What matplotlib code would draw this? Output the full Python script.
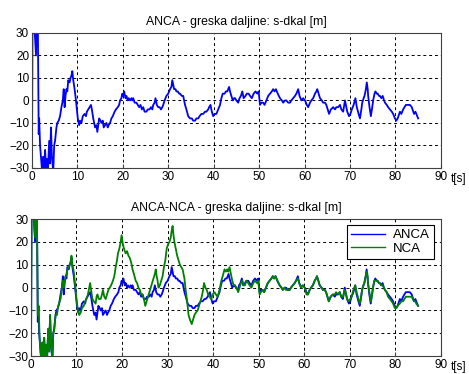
import matplotlib
matplotlib.use("Agg")
import matplotlib.pyplot as plt

plt.rcParams['font.family'] = ['Liberation Sans', 'DejaVu Sans']

# ANCA - greska daljine (procitano sa slike)
anca_t = [0.0, 0.15, 0.5, 0.9, 1.1, 1.3, 1.5, 1.6, 1.8, 2.1, 2.3, 2.5, 2.7, 2.9, 3.1, 3.3, 3.5, 3.8,
          4.0, 4.2, 4.4, 4.7, 4.9, 5.1, 5.4, 5.6, 5.9, 6.2, 6.5, 6.8, 7.0, 7.2, 7.4, 7.6, 7.8, 8.0,
          8.3, 8.5, 8.7, 8.9, 9.1, 9.4, 9.7, 9.9, 10.1, 10.4, 10.6, 10.9, 11.2, 11.6, 11.9, 12.1,
          12.4, 12.7, 13.0, 13.2, 13.5, 13.9, 14.2, 14.4, 14.6, 14.8, 15.1, 15.3, 15.6, 15.8, 16.1,
          16.4, 16.7, 16.9, 17.2, 17.5, 17.8, 18.2, 18.5, 18.9, 19.2, 19.4, 19.7, 19.9, 20.1, 20.3,
          20.6, 20.8, 21.1, 21.3, 21.6, 21.9, 22.1, 22.3, 22.6, 23.0, 23.3, 23.6, 23.9, 24.2, 24.5,
          24.8, 25.2, 25.5, 25.9, 26.2, 26.5, 26.7, 27.0, 27.2, 27.5, 27.8, 28.1, 28.4, 28.7, 28.9,
          29.2, 29.6, 30.0, 30.4, 30.7, 30.9, 31.1, 31.3, 31.6, 31.8, 32.1, 32.4, 32.6, 33.0, 33.3,
          33.5, 33.7, 34.0, 34.4, 34.8, 35.2, 35.5, 35.9, 36.2, 36.6, 36.9, 37.3, 37.7, 38.1, 38.4,
          38.8, 39.0, 39.3, 39.6, 39.9, 40.2, 40.6, 41.0, 41.4, 41.7, 42.0, 42.4, 42.7, 43.0, 43.4,
          43.6, 43.9, 44.2, 44.5, 44.7, 45.0, 45.4, 45.7, 46.0, 46.3, 46.6, 47.0, 47.3, 47.7, 48.0,
          48.4, 48.8, 49.2, 49.6, 49.9, 50.2, 50.5, 50.9, 51.2, 51.6, 52.0, 52.4, 52.8, 53.1, 53.4,
          53.7, 54.1, 54.6, 55.0, 55.3, 55.7, 56.0, 56.4, 56.8, 57.1, 57.5, 57.9, 58.2, 58.6, 58.9,
          59.3, 59.7, 60.1, 60.5, 60.8, 61.2, 61.5, 61.9, 62.3, 62.6, 62.8, 63.1, 63.4, 63.8, 64.1,
          64.5, 64.8, 65.1, 65.4, 65.8, 66.3, 66.7, 67.0, 67.4, 67.8, 68.1, 68.5, 68.9, 69.2, 69.4,
          69.8, 70.1, 70.4, 70.8, 71.2, 71.5, 71.9, 72.2, 72.5, 72.7, 73.0, 73.2, 73.5, 73.7, 73.9,
          74.0, 74.3, 74.6, 74.9, 75.1, 75.4, 75.6, 75.9, 76.1, 76.4, 76.6, 76.9, 77.2, 77.5, 77.7,
          78.1, 78.4, 78.8, 79.2, 79.5, 79.9, 80.2, 80.5, 81.0, 81.3, 81.7, 82.0, 82.3, 82.8, 83.2,
          83.6, 84.1, 84.4, 84.6, 85.0]
anca_s = [-35, 40, 35, 20, 38, 36, -15, -8, -20, -28, -33, -25, -32, -22, -30, -26, -33, -18,
          -28, -12, -25, -32, -20, -18, -12, -10, -9, -7, -3, 0, 5, -3, 2, 5, 4, 9,
          8, 10, 11, 13, 9, 5, 0, -4, -8, -11, -9, -10, -7, -6, -7, -5,
          -4, -3, -2, -4, -8, -12, -11, -14, -11, -8, -9, -10, -9, -12, -11,
          -10, -12, -11, -10, -8, -7, -5, -4, -3, -2, 0, 1, 3, 2, 4,
          1, 2, 0, 1, 0, 1, 0, 1, -1, -1, -2, -3, -2, -4, -3,
          -5, -5, -4, -4, -3, -4, -2, -1, 1, -2, -3, -3, -4, -3, -2,
          0, 2, 3, 5, 6, 9, 7, 5, 5, 4, 4, 3, 3, 2, 2,
          0, -2, -4, -7, -8, -8, -9, -9, -8, -8, -7, -6, -6, -5, -5,
          -4, -3, -2, -5, -7, -6, -6, -4, -2, 1, 3, 3, 4, 4, 6,
          4, 2, 0, 1, 1, 0, -1, 1, 2, 4, 1, 2, 3, 3, 2,
          1, 3, 4, 3, 4, -2, -1, -1, -2, 0, 2, 3, 4, 5, 4,
          5, 3, 1, 0, -1, 0, 0, -1, -1, 0, 1, 2, 3, 5, 2,
          0, 1, 0, -2, -3, -1, 0, 1, 3, 4, 5, 3, 1, 0, -1,
          -1, -2, -4, -6, -4, -3, -4, -3, -3, -2, -4, -5, 0, -3, -5,
          -7, -6, -4, -2, 1, -3, -6, -8, -4, -1, 1, 2, 5, 8, 5,
          2, -3, -7, -3, 0, 3, 4, 3, 3, 2, 2, 1, 2, 0, -1,
          -2, -3, -4, -5, -6, -8, -9, -8, -5, -6, -4, -3, -2, -2, -2,
          -3, -6, -5, -6, -8]

# NCA - greska daljine
nca_t = [0.0, 0.15, 0.5, 0.9, 1.1, 1.3, 1.5, 1.7, 1.9, 2.1, 2.3, 2.5, 2.7, 2.9, 3.1, 3.3, 3.5, 3.8,
         4.0, 4.2, 4.4, 4.7, 4.9, 5.1, 5.4, 5.7, 6.0, 6.3, 6.5, 6.8, 7.0, 7.2, 7.5, 7.8, 8.0, 8.3,
         8.5, 8.7, 8.9, 9.1, 9.4, 9.7, 10.0, 10.3, 10.6, 10.9, 11.2, 11.6, 11.9, 12.2, 12.5, 12.8,
         13.0, 13.2, 13.5, 13.8, 14.2, 14.4, 14.6, 14.9, 15.3, 15.6, 15.8, 16.1, 16.4, 16.7, 17.0,
         17.3, 17.6, 18.0, 18.3, 18.6, 18.9, 19.1, 19.4, 19.7, 19.9, 20.1, 20.3, 20.6, 20.8, 21.1,
         21.4, 21.7, 22.0, 22.3, 22.6, 23.0, 23.3, 23.6, 23.9, 24.2, 24.5, 24.8, 25.1, 25.4, 25.7,
         26.0, 26.3, 26.6, 26.9, 27.2, 27.4, 27.6, 27.8, 28.0, 28.3, 28.6, 28.9, 29.2, 29.5, 29.8,
         30.1, 30.4, 30.7, 30.9, 31.1, 31.3, 31.5, 31.8, 32.1, 32.4, 32.7, 33.0, 33.3, 33.5, 33.7,
         33.9, 34.1, 34.4, 34.6, 34.9, 35.1, 35.3, 35.6, 35.9, 36.2, 36.6, 36.9, 37.2, 37.5, 37.8,
         38.0, 38.3, 38.6, 38.9, 39.2, 39.6, 39.9, 40.3, 40.6, 41.0, 41.4, 41.8, 42.1, 42.5, 42.8,
         43.1, 43.3, 43.6, 43.9, 44.2, 44.5, 44.8, 45.1, 45.5, 45.8, 46.1, 46.4, 46.7, 47.0, 47.3,
         47.7, 48.0, 48.4, 48.8, 49.2, 49.6, 49.9, 50.2, 50.5, 50.9, 51.2, 51.6, 52.0, 52.4, 52.8,
         53.1, 53.4, 53.7, 54.1, 54.6, 55.0, 55.3, 55.7, 56.0, 56.4, 56.8, 57.1, 57.5, 57.9, 58.2,
         58.6, 58.9, 59.3, 59.7, 60.1, 60.5, 60.8, 61.2, 61.5, 61.9, 62.3, 62.6, 62.8, 63.1, 63.4,
         63.8, 64.1, 64.5, 64.8, 65.1, 65.4, 65.8, 66.3, 66.7, 67.0, 67.4, 67.8, 68.1, 68.5, 68.9,
         69.2, 69.4, 69.8, 70.1, 70.4, 70.8, 71.2, 71.5, 71.9, 72.2, 72.5, 72.7, 73.0, 73.2, 73.5,
         73.7, 73.9, 74.0, 74.3, 74.6, 74.9, 75.1, 75.4, 75.6, 75.9, 76.1, 76.4, 76.6, 76.9, 77.2,
         77.5, 77.7, 78.1, 78.4, 78.8, 79.2, 79.5, 79.9, 80.2, 80.5, 81.0, 81.3, 81.7, 82.0, 82.3,
         82.8, 83.2, 83.6, 84.1, 84.4, 84.6, 85.0]
nca_s = [-35, 40, 35, 22, 38, 36, -12, -8, -22, -28, -33, -24, -32, -22, -30, -25, -33, -18,
         -28, -12, -24, -32, -20, -19, -12, -12, -8, -6, -5, 0, 3, 0, 4, 6, 8, 9,
         10, 11, 14, 10, 7, 1, -5, -10, -12, -11, -9, -8, -6, -5, -3, 0,
         2, -1, -5, -6, -7, -4, -3, -5, -5, -3, -1, -4, -5, -3, -1,
         0, 1, 3, 5, 9, 12, 15, 17, 20, 23, 20, 18, 16, 15, 16,
         14, 13, 11, 8, 6, 3, 2, 0, -1, -3, -3, -5, -8, -6, -4,
         -2, 0, 2, 4, 6, 8, 5, 3, 0, 1, 3, 5, 9, 12, 17,
         19, 20, 22, 25, 27, 23, 20, 17, 14, 12, 10, 9, 8, 6, 4,
         0, -3, -8, -12, -14, -15, -16, -14, -12, -11, -10, -8, -6, -4, -1,
         2, 0, -1, -3, -4, -5, -3, -2, -3, -4, -1, 3, 5, 8, 7,
         8, 7, 9, 6, 3, 1, 1, 0, -2, 0, 2, 3, 1, 1, 3,
         2, 1, 0, 2, 3, 2, 3, -3, -2, -1, -2, 0, 2, 3, 4,
         5, 4, 5, 3, 1, 0, -1, 0, -1, -1, -1, 0, 1, 2, 3,
         4, 2, 0, 1, 0, -3, -3, -1, 0, 1, 3, 4, 5, 3, 1,
         0, -1, -1, -2, -4, -6, -4, -3, -3, -2, -3, -2, -4, -4, -1,
         -3, -5, -6, -5, -4, -1, 1, -2, -5, -7, -4, -1, 1, 2, 5,
         7, 5, 2, -2, -6, -3, 0, 3, 3, 3, 3, 2, 2, 1, 1,
         0, -1, -2, -4, -5, -6, -7, -9, -9, -8, -7, -6, -6, -5, -4,
         -4, -4, -4, -6, -6, -7, -8]

xticks = [0, 10, 20, 30, 40, 50, 60, 70, 80, 90]
yticks = [-30, -20, -10, 0, 10, 20, 30]


def uredi_osu(ax, naslov):
    ax.set_xlim(0, 90)
    ax.set_ylim(-30, 30)
    ax.set_xticks(xticks)
    ax.set_yticks(yticks)
    ax.grid(True, color='black', linestyle=(0, (3, 3)), linewidth=0.7)
    ax.tick_params(direction='in', length=3, labelsize=8.5, pad=2, color='#404040')
    for s in ax.spines.values():
        s.set_color('#404040')
        s.set_linewidth(0.8)
    ax.set_title(naslov, fontsize=8.8, pad=6)
    ax.text(1.025, -0.035, 't[s]', transform=ax.transAxes, fontsize=8.5,
            ha='left', va='top')


fig = plt.figure(figsize=(4.69, 3.74), dpi=100)

# Gornji graf: samo ANCA
ax1 = fig.add_axes([0.068, 0.551, 0.872, 0.361])
ax1.plot(anca_t, anca_s, color='#0000ff', linewidth=1.3)
uredi_osu(ax1, 'ANCA - greska daljine: s-dkal [m]')

# Donji graf: ANCA i NCA
ax2 = fig.add_axes([0.066, 0.048, 0.874, 0.366])
ax2.plot(anca_t, anca_s, color='#0000ff', linewidth=1.3, label='ANCA')
ax2.plot(nca_t, nca_s, color='#008000', linewidth=1.3, label='NCA')
uredi_osu(ax2, 'ANCA-NCA - greska daljine: s-dkal [m]')
leg = ax2.legend(loc='upper right', bbox_to_anchor=(0.983, 0.956), borderaxespad=0,
                 fontsize=9.5, fancybox=False, framealpha=1, edgecolor='black',
                 handlelength=2.6, borderpad=0.3, labelspacing=0.1, handletextpad=0.6)
leg.get_frame().set_linewidth(0.8)
for h in leg.get_lines():
    h.set_linewidth(1.0)

fig.savefig('out.png', dpi=100)
